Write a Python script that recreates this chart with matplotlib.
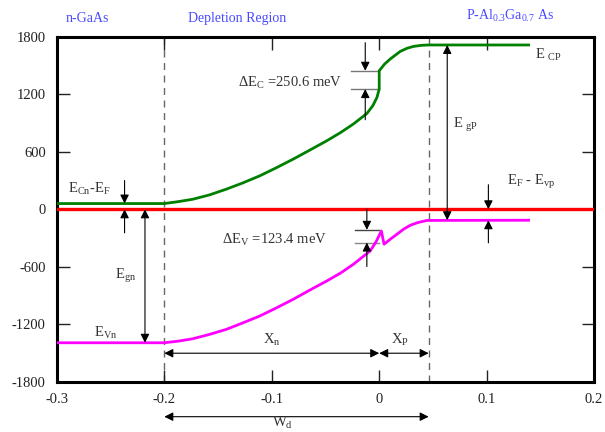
import matplotlib.pyplot as plt

plt.rcParams['font.family'] = ['Liberation Serif', 'DejaVu Serif']
plt.rcParams['mathtext.fontset'] = 'custom'
plt.rcParams['mathtext.rm'] = 'Liberation Serif'
plt.rcParams['mathtext.it'] = 'Liberation Serif'
plt.rcParams['axes.unicode_minus'] = False

# band edges (x in um, energy in meV)
ec_x = [-0.3, -0.2, -0.187, -0.1735, -0.158, -0.1423, -0.127, -0.1112, -0.096, -0.0801, -0.065,
        -0.0489, -0.036, -0.024, -0.0115, -0.006, -0.0021, 0.0,
        0.0, 0.005, 0.0103, 0.0196, 0.026, 0.032, 0.039, 0.046, 0.139]
ec_y = [60, 60, 80, 105, 150, 210, 275, 349, 432, 523, 615,
        714, 800, 890, 999, 1080, 1167, 1254,
        1445, 1515, 1568, 1647, 1680, 1699, 1710, 1714, 1714]
ev_x = [-0.3, -0.2, -0.187, -0.1735, -0.158, -0.1423, -0.127, -0.1112, -0.096, -0.0801, -0.065,
        -0.0489, -0.036, -0.024, -0.0147, -0.0084, -0.003, 0.002,
        0.0045, 0.0105, 0.0165, 0.023, 0.029, 0.036, 0.0446, 0.139]
ev_y = [-1392, -1392, -1375, -1350, -1305, -1252, -1185, -1113, -1030, -939, -845,
        -748, -665, -573, -490, -434, -340, -226,
        -364, -310, -260, -205, -166, -138, -116, -114]
fermi_x = [-0.3, 0.2]
fermi_y = [0, 0]

xn = -0.2
xp = 0.046
xticks = [-0.3, -0.2, -0.1, 0, 0.1, 0.2]
xtick_labels = ['-0.3', '-0.2', '-0.1', '0', '0.1', '0.2']
yticks = [-1800, -1200, -600, 0, 600, 1200, 1800]

fig = plt.figure(figsize=(6.05, 4.32), dpi=100)
ax = fig.add_axes([0.094, 0.116, 0.888, 0.799])

ax.plot(fermi_x, fermi_y, color='#ff0000', lw=2.4, zorder=3)
ax.plot(ec_x, ec_y, color='#008000', lw=2.0, zorder=3, solid_joinstyle='round')
ax.plot(ev_x, ev_y, color='#ff00ff', lw=2.0, zorder=3, solid_joinstyle='round')

for xv in [xn, xp]:
    ax.plot([xv, xv], [-1800, 1800], color='#666666', lw=1.0, ls=(0, (5, 4)), zorder=1)

ax.set_xlim(-0.3, 0.2)
ax.set_ylim(-1800, 1800)
ax.set_xticks(xticks)
ax.set_xticklabels(xtick_labels)
ax.set_yticks(yticks)
ax.tick_params(direction='in', length=9, width=1.0, top=True, right=True,
               labelsize=10.5, colors='#222222', pad=8)
for s in ax.spines.values():
    s.set_linewidth(2.2)

dark = '#333333'
arr = dict(arrowstyle='-|>', color='black', lw=0.8, mutation_scale=13, shrinkA=0, shrinkB=0)
darr = dict(arrowstyle='<|-|>', color='black', lw=0.8, mutation_scale=13, shrinkA=0, shrinkB=0)


def arrow(x0, y0, x1, y1, props=arr):
    ax.annotate('', xy=(x1, y1), xytext=(x0, y0), arrowprops=props, annotation_clip=False)


# E_Cn - E_F
arrow(-0.237, 300, -0.237, ec_y[0])
arrow(-0.237, -245, -0.237, 0)
ax.text(-0.27, 215, r'E$_{\rm Cn}$-E$_{\rm F}$', ha='center', va='center', fontsize=10.5, color=dark)

# E_gn
arrow(-0.218, 0, -0.218, ev_y[0], darr)
ax.text(-0.236, -700, r'E$_{\rm gn}$', ha='center', va='center', fontsize=10.5, color=dark)
ax.text(-0.255, -1290, r'E$_{\rm Vn}$', ha='center', va='center', fontsize=10.5, color=dark)

# depletion widths
arrow(xn, -1501, 0, -1501, darr)
arrow(0, -1501, xp, -1501, darr)
ax.text(-0.1, -1365, r'X$_{\rm n}$', ha='center', va='center', fontsize=10.5, color=dark)
ax.text(0.0196, -1365, r'X$_{\rm P}$', ha='center', va='center', fontsize=10.5, color=dark)
arrow(xn, -2163, xp, -2163, darr)
ax.text(-0.09, -2228, r'W$_{\rm d}$', ha='center', va='center', fontsize=10.5, color=dark, clip_on=False)

# E_gP
arrow(0.0633, ev_y[-1], 0.0633, ec_y[-1], darr)
ax.text(0.08, 880, r'E $_{\rm gP}$', ha='center', va='center', fontsize=10.5, color=dark)
ax.text(0.157, 1610, r'E $_{\rm CP}$', ha='center', va='center', fontsize=10.5, color=dark)

# E_F - E_vp
arrow(0.1016, 256, 0.1016, 0)
arrow(0.1016, -350, 0.1016, ev_y[-1])
ax.text(0.141, 287, r'E$_{\rm F}$ - E$_{\rm vp}$', ha='center', va='center', fontsize=10.5, color=dark)

# conduction band offset
ax.plot([-0.026, 0.0], [1445, 1445], color='#777777', lw=1.0)
ax.plot([-0.026, 0.0], [1254, 1254], color='#777777', lw=1.0)
arrow(-0.013, 1738, -0.013, 1445)
arrow(-0.013, 934, -0.013, 1254)
ax.text(-0.034, 1320, r'$\Delta$E$_{\rm C}$ =250.6 meV', ha='right', va='center', fontsize=10.5, color=dark)

# valence band offset
ax.plot([-0.023, 0.0], [-214, -214], color='#444444', lw=1.0)
ax.plot([-0.023, 0.0], [-347, -347], color='#888888', lw=1.0)
arrow(-0.0115, 0, -0.0115, -214)
arrow(-0.0115, -597, -0.0115, -347)
ax.text(-0.049, -318, r'$\Delta$E$_{\rm V}$ =123.4 meV', ha='right', va='center', fontsize=10.5, color=dark)

# region labels
blue = '#4a4aff'
ax.text(-0.272, 1990, 'n-GaAs', ha='center', va='center', fontsize=10, color=blue, clip_on=False)
ax.text(-0.132, 1990, 'Depletion Region', ha='center', va='center', fontsize=10, color=blue, clip_on=False)
ax.text(0.122, 2020, r'P-Al$_{\rm 0.3}$Ga$_{\rm 0.7}$ As', ha='center', va='center', fontsize=10,
        color=blue, clip_on=False)

fig.savefig('out.png', dpi=100)
